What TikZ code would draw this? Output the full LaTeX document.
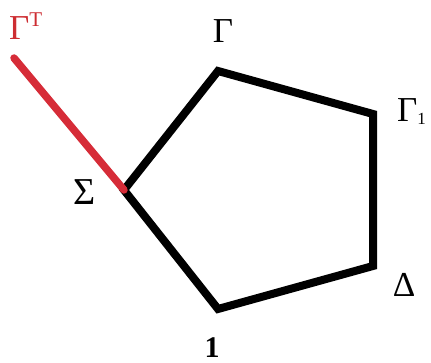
\documentclass[tikz,border=0pt]{standalone}
\usepackage{fontspec}
\setmainfont{Liberation Serif}
\definecolor{myred}{RGB}{214,44,56}
\definecolor{labred}{RGB}{205,45,50}
\tikzset{
  edge/.style={line width=8pt, black, line join=miter},
  redline/.style={line width=7.5pt, myred, line cap=round},
  lab/.style={inner sep=0pt, font=\fontsize{35}{35}\selectfont},
}
\begin{document}
\begin{tikzpicture}[x=1pt,y=-1pt]
\useasboundingbox (0,0) rectangle (431,363);
\coordinate (S) at (124,190);
\coordinate (G) at (218,71);
\coordinate (G1) at (373,114);
\coordinate (D) at (373,266);
\coordinate (O) at (218,309);
\coordinate (T) at (14,58);
\draw[edge] (S) -- (G) -- (G1) -- (D) -- (O) -- cycle;
\draw[redline] (T) -- (S);
\node[lab, text=labred, anchor=base west] (lGT) at (9,40) {Γ\raisebox{13pt}{\fontsize{21}{21}\selectfont T}};
\node[lab, anchor=base] (lG) at (223,43) {Γ};
\node[lab, anchor=base west] (lG1) at (397,122) {Γ\raisebox{-3pt}{\fontsize{17}{17}\selectfont 1}};
\node[lab, anchor=base] (lD) at (404,297) {Δ};
\node[lab, anchor=base, font=\fontsize{38}{38}\selectfont] (lS) at (85,205) {Σ};
\node[lab, anchor=base, font=\fontsize{30}{30}\selectfont\bfseries] (lO) at (212,357) {1};
\end{tikzpicture}
\end{document}
